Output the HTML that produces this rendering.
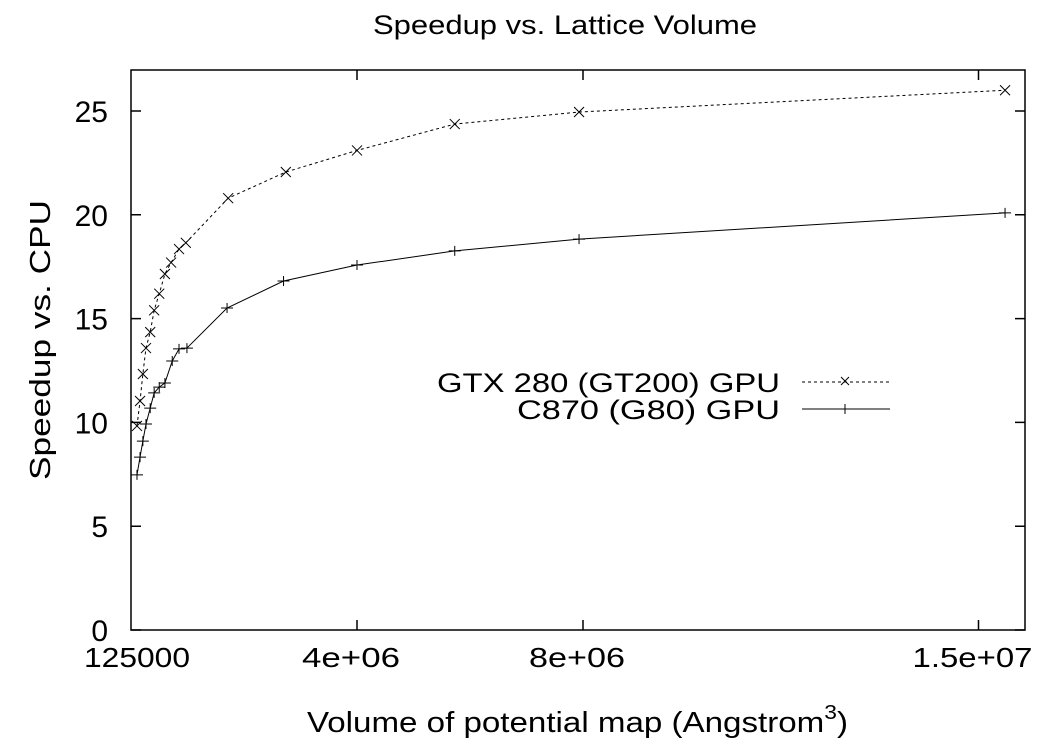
<!DOCTYPE html>
<html><head><meta charset="utf-8"><style>
html,body{margin:0;padding:0;background:#fff;}
svg text{font-family:"Liberation Sans",sans-serif;fill:#000;}
</style></head><body>
<svg id="chart" width="1050" height="749" viewBox="0 0 1050 749" xmlns="http://www.w3.org/2000/svg">
<text x="373" y="34" font-size="27" textLength="384" lengthAdjust="spacingAndGlyphs">Speedup vs. Lattice Volume</text>
<rect x="131" y="70" width="894" height="560" fill="none" stroke="#000" stroke-width="1.5"/>
<g id="axes"></g>
<g id="series"></g>
<text transform="translate(50,340) rotate(-90)" x="-140" y="0" font-size="29" textLength="280" lengthAdjust="spacingAndGlyphs">Speedup vs. CPU</text>
<text x="307" y="732" font-size="29" textLength="541" lengthAdjust="spacingAndGlyphs">Volume of potential map (Angstrom<tspan font-size="20" dy="-13">3</tspan><tspan dy="13">)</tspan></text>
<g>
<text x="437" y="392" font-size="27" textLength="343" lengthAdjust="spacingAndGlyphs">GTX 280 (GT200) GPU</text>
<line x1="802" y1="382" x2="890" y2="382" stroke="#000" stroke-width="1" stroke-dasharray="3,3"/>
<path d="M841,377 l8,8 M849,377 l-8,8" stroke="#000" stroke-width="1"/>
<text x="517" y="419" font-size="27" textLength="263" lengthAdjust="spacingAndGlyphs">C870 (G80) GPU</text>
<line x1="802" y1="409" x2="890" y2="409" stroke="#000" stroke-width="1"/>
<path d="M845,404 v10 M840,409 h10" stroke="#000" stroke-width="1"/>
</g>
</svg>
<script>
const xTickVals = [125000, 4000000, 8000000, 15000000];
const xTickLabels = ["125000", "4e+06", "8e+06", "1.5e+07"];
const xLabelWidths = [106, 98, 96, 120];
const yTicks = [0, 5, 10, 15, 20, 25];
const volumesGTX = [106000, 160000, 210000, 265000, 340000, 410000, 500000, 600000, 710000, 850000, 970000, 1720000, 2740000, 4000000, 5730000, 7930000, 15470000];
const speedupGTX = [9.83, 11.03, 12.33, 13.58, 14.35, 15.4, 16.2, 17.15, 17.7, 18.35, 18.65, 20.8, 22.06, 23.1, 24.37, 24.95, 26.0];
const volumesC870 = [106000, 160000, 210000, 265000, 340000, 410000, 500000, 600000, 730000, 850000, 990000, 1700000, 2700000, 4000000, 5730000, 7930000, 15470000];
const speedupC870 = [7.47, 8.33, 9.1, 9.92, 10.69, 11.42, 11.7, 11.9, 12.96, 13.54, 13.58, 15.51, 16.81, 17.58, 18.26, 18.83, 20.09];

const NS = "http://www.w3.org/2000/svg";
const X = v => 131 + v * 5.65e-5;
const Y = v => 630 - v * 20.76;
function mk(tag, attrs, parent){const e=document.createElementNS(NS,tag);for(const k in attrs)e.setAttribute(k,attrs[k]);parent.appendChild(e);return e;}
const axes = document.getElementById('axes');
yTicks.forEach(t=>{
  const y=Y(t);
  const l=mk('path',{d:`M131,${y} h10 M1025,${y} h-10`,stroke:'#000','stroke-width':1.5},axes);
  
  
  const tx=mk('text',{x:108,y:y+11,'font-size':30,'text-anchor':'end'},axes);
  tx.textContent=t;
  
  
});
xTickVals.forEach((v,i)=>{
  const x=X(v);
  if(i>0){
    const l=mk('path',{d:`M${x},630 v-10 M${x},70 v10`,stroke:'#000','stroke-width':1.5},axes);
    
    
  }
  const w=xLabelWidths[i];
  const left=i===0?84:x-w/2-6;
  const tx=mk('text',{x:left,y:667,'font-size':28,textLength:w,lengthAdjust:'spacingAndGlyphs'},axes);
  tx.textContent=xTickLabels[i];
  
  
});
const series=document.getElementById('series');
function draw(xs, ys, dashed, marker, name){
  const g=mk('g',{},series);
  
  
  const pts=xs.map((v,i)=>X(v)+','+Y(ys[i])).join(' ');
  const pl=mk('polyline',{points:pts,fill:'none',stroke:'#000','stroke-width':1,'stroke-dasharray':dashed?'3,3':'none'},g);
  
  
  xs.forEach((v,i)=>{
    const x=X(v),y=Y(ys[i]);
    const d=marker==='x'?`M${x-5},${y-5} l10,10 M${x+5},${y-5} l-10,10`:`M${x},${y-5} v10 M${x-6},${y} h12`;
    const m=mk('path',{d:d,stroke:'#000','stroke-width':1},g);
    
    
  });
}
draw(volumesGTX, speedupGTX, true, 'x', 'gtx280-series');
draw(volumesC870, speedupC870, false, '+', 'c870-series');
</script>
</body></html>
